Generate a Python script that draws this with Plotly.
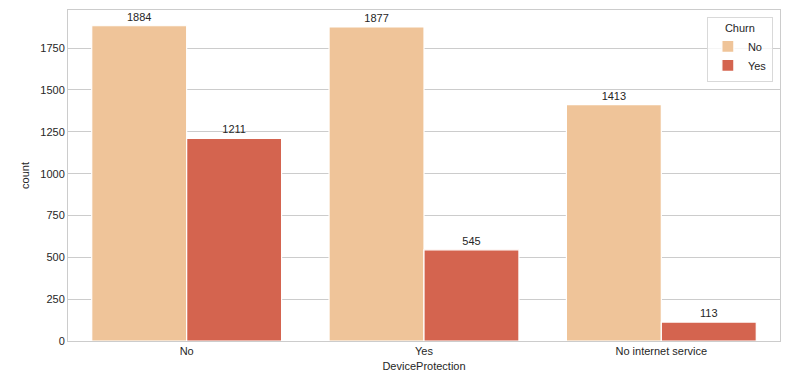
import plotly.graph_objects as go

categories = ["No", "Yes", "No internet service"]
churn_no = [1884, 1877, 1413]
churn_yes = [1211, 545, 113]
colors = {"No": "#efc499", "Yes": "#d4644f"}

fig = go.Figure()
for name, vals in [("No", churn_no), ("Yes", churn_yes)]:
    fig.add_trace(go.Bar(
        x=categories, y=vals, name=name,
        marker=dict(color=colors[name], line=dict(color="white", width=1.2)),
        text=[str(v) for v in vals], textposition="outside",
        textfont=dict(size=11, color="#262626"), cliponaxis=False,
    ))

fig.update_layout(
    width=790, height=390,
    margin=dict(l=68, r=10, t=10, b=49),
    barmode="group", bargap=0.2, bargroupgap=0,
    plot_bgcolor="white", paper_bgcolor="white",
    font=dict(family="Liberation Sans, Arial", size=11, color="#262626"),
    legend=dict(
        title=dict(text="Churn", side="top center", font=dict(size=11, color="#262626")),
        x=0.99, y=0.98, xanchor="right", yanchor="top",
        bordercolor="#d9d9d9", borderwidth=1, bgcolor="rgba(255,255,255,0.8)",
        font=dict(size=11, color="#262626"),
    ),
    xaxis=dict(
        title=dict(text="DeviceProtection", font=dict(size=11), standoff=6),
        range=[-0.5, 2.5], showline=True, linecolor="#cccccc", mirror=True,
        showgrid=False, ticks="", tickfont=dict(size=11),
    ),
    yaxis=dict(
        title=dict(text="count", font=dict(size=11), standoff=8),
        range=[0, 1978], tickvals=[0, 250, 500, 750, 1000, 1250, 1500, 1750],
        showline=True, linecolor="#cccccc", mirror=True,
        showgrid=True, gridcolor="#cccccc", gridwidth=1, zeroline=False,
        ticks="", tickfont=dict(size=11),
    ),
)

fig.write_html("out.html", post_script="document.body.style.margin='0';",
               config={"displayModeBar": False})
